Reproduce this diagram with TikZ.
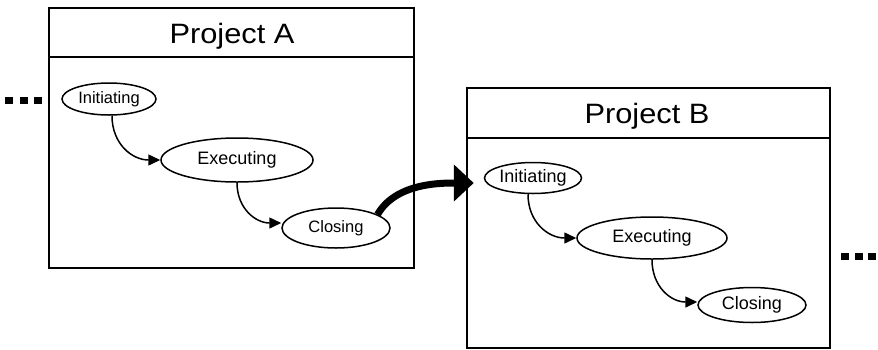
\documentclass[tikz,border=0pt]{standalone}
\usepackage{fontspec}
\setmainfont{Liberation Sans}
\usetikzlibrary{shapes.geometric,arrows.meta}
\begin{document}
\begin{tikzpicture}[x=1pt,y=1pt,
  frame/.style={draw=black,line width=1.6pt},
  phase/.style={ellipse,draw=black,line width=1.5pt,inner sep=0pt},
  title/.style={anchor=base,font=\fontsize{28}{30}\selectfont,xscale=1.1},
  flow/.style={line width=1.5pt,-{Triangle[length=12pt,width=11pt]}},
  handoff/.style={line width=7pt,-{Triangle[length=20pt,width=36pt]}},
  dot/.style={fill=black,minimum width=8pt,minimum height=7pt,inner sep=0pt}
]
\useasboundingbox (0,0) rectangle (878,-349);

% Project A frame
\draw[frame] (49,-8) rectangle (414,-268);
\draw[frame] (49,-57) -- (414,-57);
\node[title] (tA) at (232,-43) {Project A};

% Project B frame
\draw[frame] (467,-88) rectangle (830,-348);
\draw[frame] (467,-138) -- (830,-138);
\node[title] (tB) at (647,-123) {Project B};

% Phases of project A
\node[phase,minimum width=94pt,minimum height=32pt,font=\fontsize{16.5}{18}\selectfont] (iA) at (109,-99) {Initiating};
\node[phase,minimum width=152pt,minimum height=44pt,font=\fontsize{18}{20}\selectfont] (eA) at (237,-160) {Executing};
\node[phase,minimum width=108pt,minimum height=40pt,font=\fontsize{16.5}{18}\selectfont] (cA) at (336,-228) {Closing};

% Phases of project B
\node[phase,minimum width=97pt,minimum height=31pt,font=\fontsize{18}{20}\selectfont] (iB) at (533,-178) {Initiating};
\node[phase,minimum width=150pt,minimum height=42pt,font=\fontsize{18}{20}\selectfont] (eB) at (652,-238) {Executing};
\node[phase,minimum width=108pt,minimum height=35pt,font=\fontsize{18}{20}\selectfont] (cB) at (752,-305) {Closing};

% Flow within each project
\draw[flow] ([xshift=3pt]iA.south) to[out=-90,in=180,looseness=1.1] (eA.west);
\draw[flow] (eA.south) to[out=-90,in=180,looseness=1.1] ([yshift=5pt]cA.west);
\draw[flow] ([xshift=-5pt]iB.south) to[out=-90,in=180,looseness=1.1] (eB.west);
\draw[flow] (eB.south) to[out=-90,in=180,looseness=1.1] ([yshift=3pt]cB.west);

% Hand-off from A to B
\coordinate (hB) at ([xshift=-10pt,yshift=-5pt]iB.west);
\draw[handoff] (cA.18) to[out=60,in=180,looseness=0.9] (hB);

% Continuation marks
\node[dot] (l1) at (9,-100) {};
\node[dot] (l2) at (23.5,-100) {};
\node[dot] (l3) at (38,-100) {};
\node[dot] (r1) at (844.5,-256) {};
\node[dot] (r2) at (859,-256) {};
\node[dot] (r3) at (872,-256) {};
\end{tikzpicture}
\end{document}
